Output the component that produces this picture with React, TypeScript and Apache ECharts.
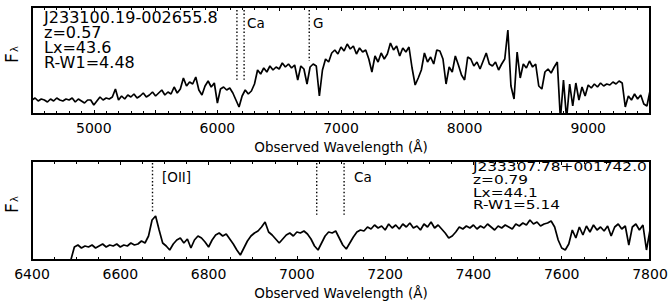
import React, { useEffect, useRef } from 'react';
import * as echarts from 'echarts';

// ---------- data ----------
const topStart = 4500;
const topStep = 25;
const topFlux = [
  14, 16, 13, 15, 14, 12, 15, 13,
  16, 14, 13, 15, 14, 16, 12, 15,
  13, 11, 14, 14, 9, 13, 17, 14,
  16, 15, 17, 25, 14, 18, 15, 19,
  17, 20, 16, 18, 21, 17, 19, 22,
  18, 21, 24, 19, 22, 20, 27, 21,
  25, 36, 28, 32, 30, 37, 24, 19,
  28, 33, 27, 31, 11, 25, 27, 24,
  26, 21, 14, 7, 18, 24, 20, 23,
  30, 44, 40, 46, 42, 48, 44, 47,
  45, 51, 47, 50, 46, 49, 34, 48,
  45, 30, 47, 50, 48, 18, 44, 55,
  52, 61, 64, 60, 67, 63, 70, 65,
  68, 60, 66, 62, 64, 55, 42, 58,
  52, 61, 55, 60, 71, 64, 68, 58,
  66, 62, 67, 46, 29, 36, 44, 61,
  52, 57, 50, 64, 63, 55, 30, 47,
  42, 58, 49, 39, 34, 57, 55, 48,
  52, 45, 53, 61, 50, 48, 52, 44,
  50, 55, 84, 28, 15, 62, 36, 50,
  46, 53, 47, 50, 28, 25, 42, 45,
  41, 47, 52, -5, 34, -5, 30, 8,
  31, 14, 27, 18, 29, 26, 30, 27,
  31, 28, 30, 29, 32, 30, 33, 31,
  7, 18, 14, 20, 15, 19, 10, 8,
  23,
];

const botStart = 6488;
const botStep = 8;
const botFlux = [
  0, 13, 15, 12, 14, 13, 15, 12, 14, 16,
  13, 15, 14, 16, 13, 15, 14, 17, 15, 16,
  19, 17, 24, 40, 44, 30, 17, 14, 10, 16,
  20, 22, 17, 21, 12, 20, 24, 22, 18, 13,
  20, 25, 27, 24, 26, 21, 16, 10, 5, 12,
  19, 24, 27, 29, 33, 38, 28, 25, 21, 17,
  21, 25, 27, 24, 28, 27, 29, 26, 21, 14,
  10, 17, 24, 28, 27, 29, 22, 15, 11, 17,
  23, 28, 30, 29, 33, 31, 35, 32, 34, 30,
  36, 32, 35, 31, 36, 33, 37, 32, 34, 30,
  36, 33, 38, 32, 35, 31, 27, 22, 24, 28,
  33, 31, 34, 32, 35, 31, 34, 32, 36, 33,
  30, 34, 32, 35, 33, 31, 36, 34, 37, 35,
  40, 36, 38, 34, 36, 37, 39, 33, 20, 12,
  10, 16, 30, 22, 33, 25, 34, 28, 35, 30,
  33, 29, 34, 24, 33, 36, 31, 34, 15, 33,
  36, 30, 35, 10, 30,
];

const topTickLabels = [5000, 6000, 7000, 8000, 9000];
const botTickLabels = [6400, 6600, 6800, 7000, 7200, 7400, 7600, 7800];

// feature markers: wavelength, flux at top of marker, flux at bottom of marker
const topFeatureWave = [6158, 6216, 6743];
const topFeatureHigh = [104, 104, 104];
const topFeatureLow = [34, 34, 53];
const botFeatureWave = [6673, 7045, 7107];
const botFeatureHigh = [97, 97, 97];
const botFeatureLow = [48, 43, 43];

const topInfo = ['J233100.19-002655.8', 'z=0.57', 'Lx=43.6', 'R-W1=4.48'];
const botInfo = ['J233307.78+001742.0', 'z=0.79', 'Lx=44.1', 'R-W1=5.14'];

const FONT = 'DejaVu Sans';

function makeXAxes(gridIndex: number, min: number, max: number, interval: number, minorSplit: number, labels: number[]) {
  const tick = { show: true, inside: true, length: 4, lineStyle: { color: '#000', width: 1 } };
  const minor = { show: true, splitNumber: minorSplit, length: 3, lineStyle: { color: '#000', width: 1 } };
  return [
    {
      gridIndex,
      type: 'value',
      position: 'bottom',
      min,
      max,
      interval,
      axisLine: { show: false },
      axisTick: tick,
      minorTick: minor,
      splitLine: { show: false },
      minorSplitLine: { show: false },
      axisLabel: {
        show: true,
        color: '#000',
        fontFamily: FONT,
        fontSize: 14,
        margin: 7,
        formatter: (v: number) => (labels.includes(v) ? String(v) : ''),
      },
      name: 'Observed Wavelength (Å)',
      nameLocation: 'middle',
      nameGap: 26,
      nameTextStyle: { color: '#000', fontFamily: FONT, fontSize: 13.5, verticalAlign: 'top' },
    },
    {
      gridIndex,
      type: 'value',
      position: 'top',
      min,
      max,
      interval,
      axisLine: { show: false },
      axisTick: tick,
      minorTick: minor,
      splitLine: { show: false },
      minorSplitLine: { show: false },
      axisLabel: { show: false },
    },
  ];
}

function fLambda(x: number, y: number) {
  return {
    type: 'group',
    x,
    y,
    rotation: Math.PI / 2,
    children: [
      { type: 'text', x: 0, y: 0, style: { text: 'F', font: `17px "${FONT}"`, fill: '#000', align: 'left', verticalAlign: 'bottom' } },
      { type: 'text', x: 11, y: -1, style: { text: 'λ', font: `10px "${FONT}"`, fill: '#000', align: 'left', verticalAlign: 'bottom' } },
    ],
  };
}

function infoTexts(lines: string[], x: number, ys: number[], size: number, sx: number) {
  return lines.map((t, i) => ({
    type: 'text',
    x,
    y: ys[i],
    scaleX: sx,
    style: { text: t, font: `${size}px "${FONT}"`, fill: '#000', align: 'left', verticalAlign: 'middle' },
  }));
}

function label(t: string, x: number, y: number, size: number) {
  return { type: 'text', x, y, style: { text: t, font: `${size}px "${FONT}"`, fill: '#000', align: 'left', verticalAlign: 'middle' } };
}

export default function App() {
  const ref = useRef<HTMLDivElement>(null);
  useEffect(() => {
    if (!ref.current) return;
    const chart = echarts.init(ref.current, null, { renderer: 'svg' });

    const topData = topFlux.map((f, i) => [topStart + i * topStep, f]);
    const botData = botFlux.map((f, i) => [botStart + i * botStep, f]);

    const spec = (data: number[][], idx: number) => ({
      type: 'line',
      xAxisIndex: idx * 2,
      yAxisIndex: idx,
      data,
      showSymbol: false,
      symbol: 'none',
      clip: true,
      lineStyle: { color: '#000', width: 1.7 },
      silent: true,
      z: 3,
    });

    const markers = (waves: number[], hi: number[], lo: number[], idx: number) =>
      waves.map((w, i) => ({
        type: 'line',
        xAxisIndex: idx * 2,
        yAxisIndex: idx,
        data: [[w, hi[i]], [w, lo[i]]],
        showSymbol: false,
        symbol: 'none',
        lineStyle: { color: '#000', width: 1.4, type: [1.4, 2.2] },
        silent: true,
        z: 2,
      }));

    const option: any = {
      animation: false,
      backgroundColor: '#ffffff',
      grid: [
        { left: 32, top: 7, width: 618, height: 107, show: true, borderColor: '#000', borderWidth: 2, backgroundColor: 'transparent', containLabel: false, outerBoundsMode: 'none' },
        { left: 32, top: 161, width: 618, height: 99, show: true, borderColor: '#000', borderWidth: 2, backgroundColor: 'transparent', containLabel: false, outerBoundsMode: 'none' },
      ],
      xAxis: [
        ...makeXAxes(0, 4500, 9500, 500, 5, topTickLabels),
        ...makeXAxes(1, 6400, 7800, 200, 4, botTickLabels),
      ],
      yAxis: [
        { gridIndex: 0, type: 'value', min: 0, max: 107, show: false },
        { gridIndex: 1, type: 'value', min: 0, max: 99, show: false },
      ],
      series: [
        spec(topData, 0),
        spec(botData, 1),
        ...markers(topFeatureWave, topFeatureHigh, topFeatureLow, 0),
        ...markers(botFeatureWave, botFeatureHigh, botFeatureLow, 1),
      ],
      graphic: [
        fLambda(20, 63),
        fLambda(20, 213),
        ...infoTexts(topInfo, 44, [18, 33, 48, 63], 15, 1.07),
        ...infoTexts(botInfo, 473, [166.5, 179.3, 192.1, 205], 12.6, 1.22),
        label('Ca', 247, 23, 13.5),
        label('G', 313, 23, 13.5),
        label('[OII]', 162, 177, 13.5),
        label('Ca', 354, 177, 13.5),
      ],
    };
    chart.setOption(option);
    return () => chart.dispose();
  }, []);

  return <div ref={ref} style={{ position: 'fixed', left: 0, top: 0, width: 668, height: 304 }} />;
}
